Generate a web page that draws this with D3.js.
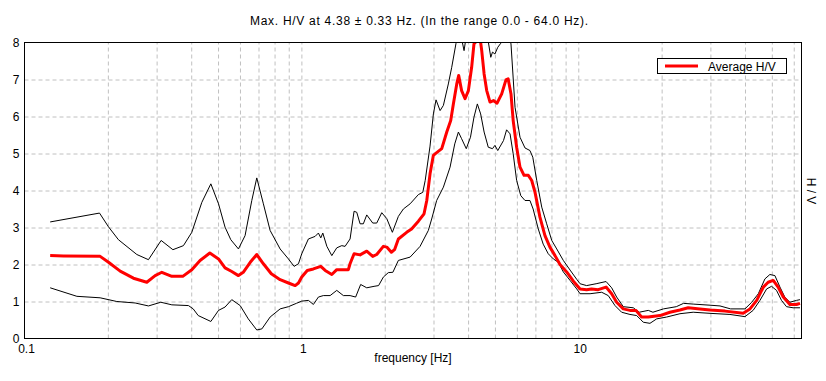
<!DOCTYPE html>
<html><head><meta charset="utf-8">
<script src="https://cdn.jsdelivr.net/npm/d3@7"></script>
<style>
body{margin:0;background:#fff;}
svg{display:block;font-family:"Liberation Sans",Arial,sans-serif;}
</style></head>
<body><svg id="c" width="826" height="381"></svg>
<script>
const titleText = "Max. H/V at 4.38 \u00B1 0.33 Hz. (In the range 0.0 - 64.0 Hz).";
const xLabel = "frequency [Hz]";
const yLabel = "H / V";
const legendLabel = "Average H/V";
const xTickLabels = [0.1, 1, 10];
const yTicks = [0,1,2,3,4,5,6,7,8];
const xDomain = [0.1, 64];
const yDomain = [0, 8];

const freqUpper = [0.1238,0.1866,0.201,0.2184,0.2545,0.2803,0.3115,0.3435,0.375,0.402,0.437,0.471,0.502,0.530,0.556,0.5925,0.626,0.662,0.690,0.729,0.771,0.838,0.898,0.941,0.976,1.003,1.06,1.121,1.152,1.175,1.195,1.236,1.288,1.342,1.399,1.438,1.499,1.55,1.585,1.629,1.674,1.722,1.81,1.871,1.951,2.034,2.131,2.24,2.335,2.47,2.646,2.744,2.80,2.915,2.997,3.064,3.169,3.257,3.394,3.491,3.618,3.72,3.868,4.0,4.3,4.6,4.83,4.90,5.0,5.12,5.25,5.4,5.6,5.715,5.91,6.16,6.42,6.69,6.85,7.08,7.38,7.69,8.02,8.36,8.83,9.34,9.87,10.15,10.72,11.6,12.6,13.2,13.76,14.54,15.8,16.6,17.9,18.6,20.3,22.6,24.0,26.0,29.9,32.5,35.5,40.0,42.3,44.7,47.2,49.2,51.3,53.5,55.7,58.1,61.4,63.2];
const hvUpper = [3.15,3.39,3.02,2.67,2.27,2.13,2.65,2.40,2.51,2.87,3.68,4.18,3.64,3.01,2.67,2.42,2.78,3.73,4.34,3.64,2.92,2.42,2.15,1.95,2.02,2.29,2.69,2.76,2.85,2.72,2.85,2.49,2.24,2.45,2.51,2.49,2.69,3.44,3.41,3.10,3.10,3.34,3.12,3.12,3.40,3.24,2.87,3.30,3.50,3.64,3.89,3.95,4.27,5.2,6.07,6.45,6.16,6.30,6.88,7.33,7.98,8.4,7.78,8.5,9.3,8.6,7.60,7.74,7.69,7.87,7.98,8.4,8.3,7.96,6.25,5.44,5.15,5.08,4.90,4.27,3.55,3.10,2.65,2.42,2.11,1.85,1.60,1.48,1.43,1.48,1.54,1.37,1.12,0.86,0.83,0.71,0.76,0.71,0.80,0.86,0.95,0.93,0.90,0.88,0.80,0.80,0.98,1.21,1.61,1.73,1.70,1.39,1.12,0.98,1.03,1.05];

const freqAvg = [0.1238,0.1383,0.1876,0.2011,0.2216,0.2474,0.2765,0.2964,0.3133,0.3405,0.3729,0.402,0.4306,0.467,0.502,0.530,0.5604,0.5925,0.6165,0.6535,0.690,0.729,0.7786,0.838,0.898,0.9496,0.976,1.003,1.05,1.105,1.175,1.219,1.288,1.342,1.418,1.478,1.499,1.55,1.629,1.722,1.81,1.871,1.977,2.034,2.113,2.17,2.24,2.4,2.5,2.646,2.773,2.837,2.915,2.997,3.064,3.213,3.35,3.462,3.539,3.64,3.70,3.79,3.90,4.01,4.12,4.20,4.30,4.38,4.44,4.48,4.57,4.67,4.80,4.94,5.09,5.29,5.48,5.58,5.715,5.82,5.99,6.16,6.37,6.60,6.79,6.98,7.27,7.58,7.90,8.24,8.59,9.08,9.60,10.15,10.72,11.16,11.8,12.6,13.2,13.76,14.54,15.37,16.15,16.93,17.89,19.72,21.43,23.28,24.95,27.5,29.9,33.9,39.4,41.7,44.1,46.6,48.5,50.6,52.7,55.0,58.1,61.4,63.2];
const hvAvg = [2.24,2.23,2.22,2.06,1.82,1.63,1.52,1.70,1.79,1.68,1.68,1.86,2.11,2.31,2.15,1.91,1.81,1.70,1.79,2.06,2.27,2.02,1.75,1.59,1.50,1.43,1.50,1.66,1.84,1.88,1.95,1.84,1.73,1.86,1.86,1.86,2.02,2.29,2.26,2.36,2.22,2.27,2.49,2.47,2.33,2.40,2.69,2.87,2.96,3.17,3.37,3.73,4.45,4.95,5.01,5.13,5.58,5.89,6.34,6.88,7.11,6.70,6.48,6.70,7.33,7.96,8.05,8.08,8.0,7.78,7.15,6.70,6.39,6.43,6.36,6.61,6.99,7.02,6.61,5.89,5.17,4.63,4.41,4.41,4.27,3.95,3.28,2.78,2.47,2.24,2.00,1.80,1.55,1.34,1.32,1.34,1.32,1.39,1.21,0.98,0.80,0.76,0.76,0.58,0.58,0.62,0.71,0.77,0.83,0.80,0.77,0.74,0.68,0.80,1.03,1.39,1.52,1.57,1.39,1.12,0.92,0.92,0.95];

const freqLower = [0.1238,0.1546,0.1876,0.2155,0.2509,0.2803,0.3107,0.3405,0.3909,0.4068,0.424,0.471,0.502,0.530,0.5604,0.601,0.643,0.690,0.72,0.771,0.838,0.898,0.959,1.003,1.06,1.105,1.152,1.2,1.27,1.342,1.418,1.499,1.57,1.637,1.722,1.83,1.9,1.977,2.06,2.14,2.24,2.47,2.683,2.874,2.955,3.08,3.257,3.443,3.58,3.69,3.79,3.94,4.08,4.20,4.32,4.44,4.57,4.73,4.90,5.0,5.12,5.37,5.51,5.67,5.82,5.99,6.2,6.42,6.69,6.87,7.17,7.47,7.79,8.13,8.47,8.83,9.34,9.87,10.15,11.03,12.15,12.83,13.57,14.34,15.37,16.25,17.17,18.15,19.19,20.85,23.3,26.0,29.9,35.3,40.0,42.8,45.3,47.9,49.9,52.0,54.2,56.5,59.7,63.2];
const hvLower = [1.37,1.14,1.10,1.00,0.96,0.88,0.98,0.91,0.89,0.80,0.62,0.46,0.76,0.85,1.05,0.89,0.53,0.23,0.26,0.58,0.80,0.86,0.95,1.01,1.03,0.92,1.12,1.16,1.16,1.30,1.16,1.16,1.12,1.46,1.37,1.41,1.43,1.66,1.78,1.79,2.11,2.20,2.49,2.92,3.23,3.73,4.09,4.63,5.26,5.58,5.40,5.13,5.44,5.98,6.34,6.07,5.58,5.17,5.13,5.22,5.08,5.35,5.64,5.53,4.99,4.27,3.86,3.73,3.73,3.50,2.96,2.55,2.29,2.15,2.06,1.80,1.57,1.34,1.21,1.21,1.25,1.16,0.89,0.71,0.65,0.62,0.44,0.41,0.53,0.58,0.67,0.71,0.68,0.65,0.59,0.76,1.03,1.34,1.41,1.30,1.03,0.86,0.83,0.83];

const svg = d3.select("#c");
const L = 24.5, R = 801.5, T = 42.5, B = 338.5;
const x = d3.scaleLog().domain(xDomain).range([L, R]);
const y = d3.scaleLinear().domain(yDomain).range([B, T]);

// grid
const gridColor = "#c0c0c0";
const xGridVals = [];
[0.1,1,10].forEach(d => { for (let k=1;k<10;k++){ const v=d*k; if (v>0.1 && v<64) xGridVals.push(v);} });
const gx = svg.append("g").attr("transform",`translate(0,${B})`)
  .call(d3.axisBottom(x).tickValues(xGridVals).tickSize(-(B-T)).tickFormat(""));
gx.select(".domain").remove();
gx.selectAll("line").attr("stroke",gridColor).attr("stroke-dasharray","4,3");
const gy = svg.append("g").attr("transform",`translate(${L},0)`)
  .call(d3.axisLeft(y).tickValues(yTicks.filter(v=>v>0&&v<8)).tickSize(-(R-L)).tickFormat(""));
gy.select(".domain").remove();
gy.selectAll("line").attr("stroke",gridColor).attr("stroke-dasharray","4,3");

// clip
svg.append("clipPath").attr("id","pc").append("rect")
  .attr("x",L).attr("y",T).attr("width",R-L).attr("height",B-T);

const line = d3.line().x(d=>x(d[0])).y(d=>y(d[1]));
const plot = svg.append("g").attr("clip-path","url(#pc)");
const zip = (f,v)=>f.map((d,i)=>[d,v[i]]);
plot.append("path").datum(zip(freqUpper,hvUpper)).attr("d",line)
  .attr("fill","none").attr("stroke","#000").attr("stroke-width",1);
plot.append("path").datum(zip(freqLower,hvLower)).attr("d",line)
  .attr("fill","none").attr("stroke","#000").attr("stroke-width",1);
plot.append("path").datum(zip(freqAvg,hvAvg)).attr("d",line)
  .attr("fill","none").attr("stroke","#ff0000").attr("stroke-width",3).attr("stroke-linejoin","round");

// frame
svg.append("rect").attr("x",L).attr("y",T).attr("width",R-L).attr("height",B-T)
  .attr("fill","none").attr("stroke","#000").attr("stroke-width",1);

// axes labels
const ay = svg.append("g").attr("transform",`translate(${L},0)`)
  .call(d3.axisLeft(y).tickValues(yTicks).tickSize(0).tickPadding(5).tickFormat(d3.format("d")));
ay.select(".domain").remove();
ay.selectAll("text").attr("font-size","12px").attr("font-family","Liberation Sans, Arial, sans-serif").attr("fill","#000");

const ax = svg.append("g").attr("transform",`translate(1.5,${B})`)
  .call(d3.axisBottom(x).tickValues(xTickLabels).tickSize(0).tickPadding(6).tickFormat(d=>String(d)));
ax.select(".domain").remove();
ax.selectAll("text").attr("font-size","12px").attr("font-family","Liberation Sans, Arial, sans-serif").attr("fill","#000");

svg.append("text").attr("x",413).attr("y",362).attr("text-anchor","middle")
  .attr("font-size","12px").text(xLabel);
svg.append("text").attr("x",419).attr("y",25).attr("text-anchor","middle")
  .attr("font-size","12px").attr("textLength",338).attr("lengthAdjust","spacing").text(titleText);
svg.append("text").attr("transform","translate(807,191) rotate(90)").attr("text-anchor","middle")
  .attr("font-size","12px").text(yLabel);

// legend
const lg = svg.append("g");
lg.append("rect").attr("x",657.5).attr("y",58.5).attr("width",129).attr("height",15)
  .attr("fill","#fff").attr("stroke","#000");
lg.append("line").attr("x1",665).attr("x2",698).attr("y1",66).attr("y2",66)
  .attr("stroke","#ff0000").attr("stroke-width",3);
lg.append("text").attr("x",708).attr("y",70.5).attr("font-size","12px").text(legendLabel);
</script>
</body></html>
